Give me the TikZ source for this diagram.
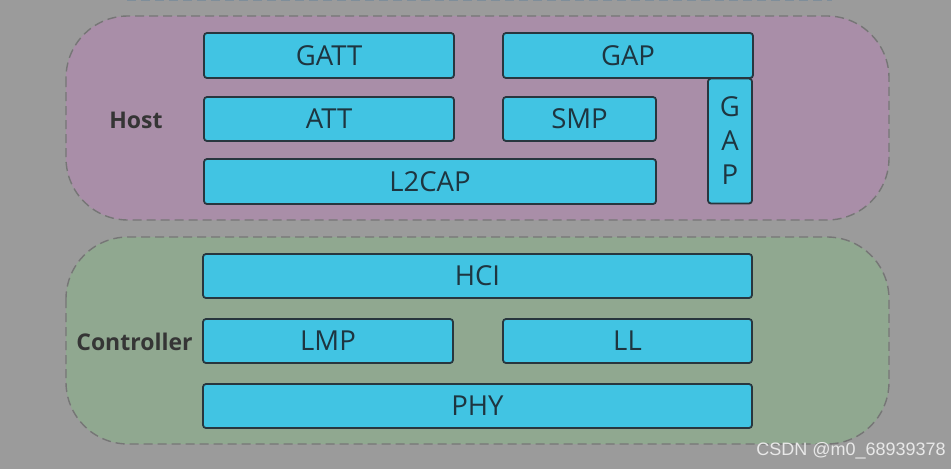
\documentclass[tikz,border=0pt]{standalone}
\usepackage{fontspec}
\setmainfont{Open Sans}
\newfontfamily\wmfont{Liberation Sans}
\begin{document}
\begin{tikzpicture}[x=1pt,y=-1pt,
  region/.style={draw=rgbcolor, dash pattern=on 9pt off 5pt, line width=1.4pt, rounded corners=62pt},
  layer/.style={draw=boxedge, fill=boxfill, line width=1.8pt, rounded corners=3pt, inner sep=0pt,
    font=\fontsize{27.5}{30}\selectfont, text=boxtext},
  grouplabel/.style={font=\bfseries\fontsize{23}{25}\selectfont, text=labeltext, inner sep=0pt}
]
\definecolor{bg}{HTML}{9B9B9B}
\definecolor{rgbcolor}{HTML}{767676}
\definecolor{hostfill}{HTML}{A98EA8}
\definecolor{ctrlfill}{HTML}{90A890}
\definecolor{boxfill}{HTML}{41C4E3}
\definecolor{boxedge}{HTML}{28363E}
\definecolor{boxtext}{HTML}{1E3540}
\definecolor{labeltext}{HTML}{353535}
\definecolor{topdash}{HTML}{7F8E9A}
\definecolor{wm}{HTML}{E8E8E8}

\fill[bg] (0,0) rectangle (951,469);
\useasboundingbox (0,0) rectangle (951,469);

% cut-off region above
\coordinate (tl) at (127,0.6);
\coordinate (tr) at (832,0.6);
\draw[topdash, line width=1.3pt, dash pattern=on 9pt off 5pt] (tl) -- (tr);

% regions
\draw[region, fill=hostfill] (66,16) rectangle (889,220);
\draw[region, fill=ctrlfill] (66,237) rectangle (889,444);

% host layers
\node[layer, minimum width=250pt, minimum height=45pt] (gatt) at (329,55.5) {GATT};
\node[layer, minimum width=250pt, minimum height=44pt] (att) at (329,119) {ATT};
\node[layer, minimum width=452pt, minimum height=45pt] (l2cap) at (430,181.5) {L2CAP};
\node[layer, minimum width=250pt, minimum height=45pt] (gap) at (628,55.5) {GAP};
\node[layer, minimum width=153pt, minimum height=44pt] (smp) at (579.5,119) {SMP};
\node[layer, minimum width=44pt, minimum height=125pt, align=center,
      font=\fontsize{27.5}{34}\selectfont] (gapv) at (730,141) {G\\A\\P};

% controller layers
\node[layer, minimum width=549pt, minimum height=44pt] (hci) at (477.5,276) {HCI};
\node[layer, minimum width=250pt, minimum height=44pt] (lmp) at (328,341) {LMP};
\node[layer, minimum width=249pt, minimum height=44pt] (ll) at (627.5,341) {LL};
\node[layer, minimum width=549pt, minimum height=44pt] (phy) at (477.5,406) {PHY};

% labels
\node[grouplabel] (host) at (136,120) {Host};
\node[grouplabel] (ctrl) at (134.5,342) {Controller};

% watermark
\node[text=wm, font=\wmfont\fontsize{18}{20}\selectfont, anchor=east, inner sep=0pt] (wmark) at (946,451) {CSDN @m0\_68939378};
\end{tikzpicture}
\end{document}
